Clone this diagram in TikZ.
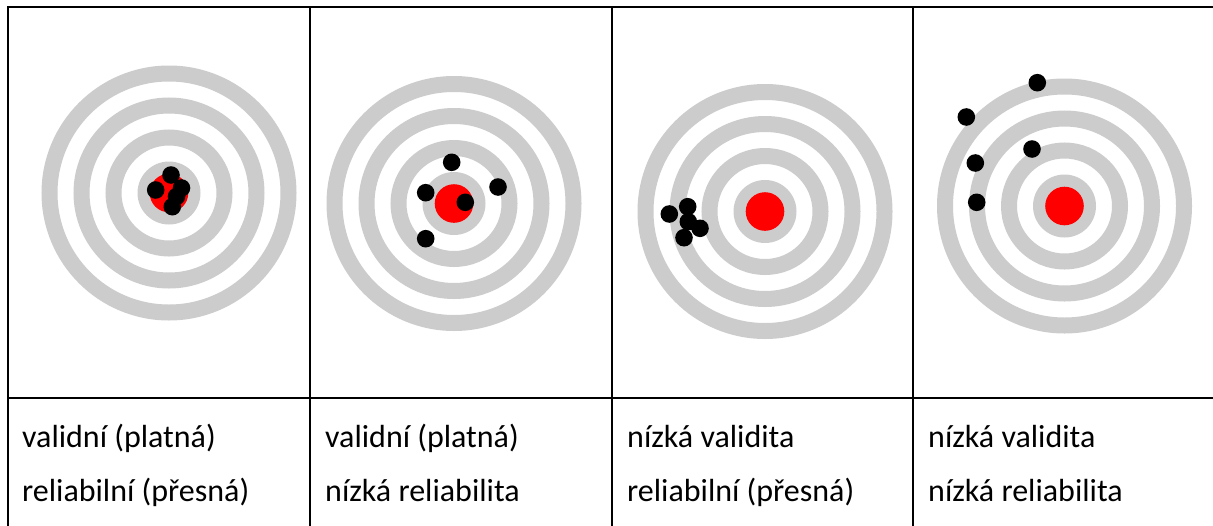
\documentclass[tikz,border=0pt]{standalone}
\usepackage{fontspec}
\setmainfont{Carlito}
\definecolor{ringgray}{HTML}{CCCCCC}
\begin{document}
\begin{tikzpicture}[x=1pt,y=-1pt,
  rule/.style={line width=2pt,black},
  band/.style={draw=ringgray,line width=16pt},
  hit/.style={fill=black},
  caption/.style={anchor=base west,inner sep=0pt,font=\fontsize{32}{38}\selectfont},
  target/.pic={
    \fill[ringgray] (0,0) circle[radius=31.5];
    \foreach \r in {55.5,87.5,119.5}
      \draw[band] (0,0) circle[radius=\r];
    \fill[red] (0,0) circle[radius=19.3];
  }]
\useasboundingbox (0,0) rectangle (1213,525);
\fill[white] (0,0) rectangle (1213,525);

% four targets
\pic at (169,193)   {target};
\pic at (454,203.5) {target};
\pic at (765,211.5) {target};
\pic at (1064.5,206) {target};

% hits: valid and reliable
\foreach \p in {(155.7,190),(171,175),(181.5,188),(176.5,196.5),(172.3,206.7)}
  \fill[hit] \p circle[radius=8.8];
% hits: valid, low reliability
\foreach \p in {(451.7,162.3),(498,187),(425.7,192.7),(465.3,202.3),(425.7,238.7)}
  \fill[hit] \p circle[radius=8.8];
% hits: low validity, reliable
\foreach \p in {(669.3,214),(687.7,206.7),(688.3,221.7),(700,228.3),(684,237.7)}
  \fill[hit] \p circle[radius=8.8];
% hits: low validity, low reliability
\foreach \p in {(1037.3,82.7),(966.3,117),(1032,149),(975.3,163),(976.7,202.3)}
  \fill[hit] \p circle[radius=8.8];

% table rules
\draw[rule] (7,7) -- (1214,7);
\draw[rule] (7,398) -- (1214,398);
\foreach \x in {8,310,612,913.3}
  \draw[rule] (\x,6) -- (\x,526);

% captions
\node[caption] (c1a) at (22,447)  {validní (platná)};
\node[caption] (c1b) at (22,501)  {reliabilní (přesná)};
\node[caption] (c2a) at (325,447) {validní (platná)};
\node[caption] (c2b) at (325,501) {nízká reliabilita};
\node[caption] (c3a) at (627,447) {nízká validita};
\node[caption] (c3b) at (627,501) {reliabilní (přesná)};
\node[caption] (c4a) at (928,447) {nízká validita};
\node[caption] (c4b) at (928,501) {nízká reliabilita};
\end{tikzpicture}
\end{document}
